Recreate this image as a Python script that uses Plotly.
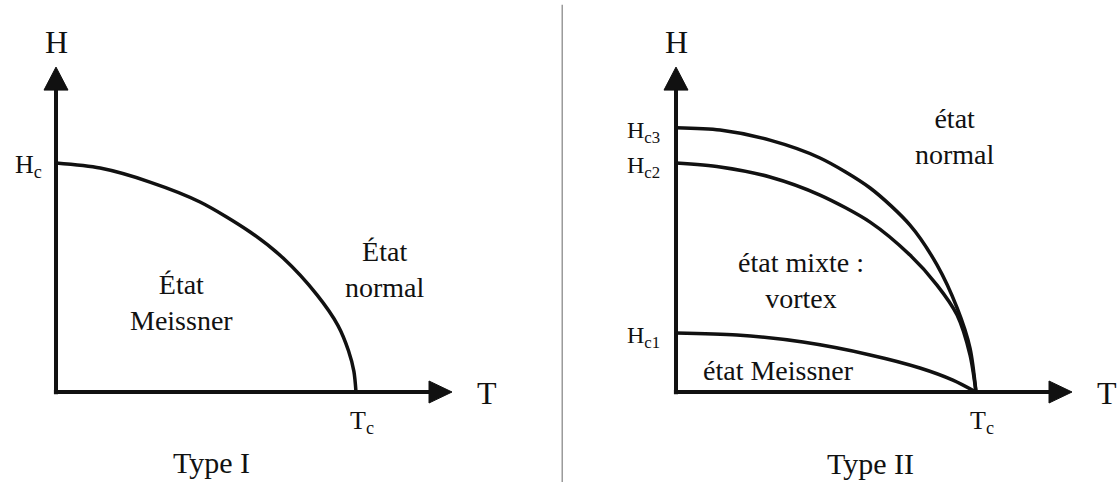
import plotly.graph_objects as go

# Phase diagrams of type I and type II superconductors (T in units of Tc, H in units of Hc / Hc2)
T_TYPE1 = [0, 0.147, 0.313, 0.48, 0.647, 0.757, 0.87, 0.94, 0.975, 0.993, 1.0]
HC_TYPE1 = [1.0, 0.978, 0.917, 0.83, 0.699, 0.585, 0.424, 0.29, 0.18, 0.09, 0.0]

T_UPPER = [0, 0.147, 0.313, 0.48, 0.647, 0.78, 0.87, 0.937, 0.98, 1.0]
HC3 = [1.154, 1.144, 1.100, 1.022, 0.891, 0.729, 0.555, 0.367, 0.192, 0.0]
HC2 = [1.0, 0.983, 0.939, 0.860, 0.742, 0.598, 0.467, 0.336, 0.162, 0.0]

T_LOWER = [0, 0.203, 0.423, 0.647, 0.813, 0.923, 1.0]
HC1 = [0.258, 0.249, 0.218, 0.162, 0.105, 0.052, 0.0]

T_ARROW_TIP = 1.32
H_ARROW_TIP = 1.419

FONT = "Liberation Serif, Times New Roman, serif"
BLACK = "#111111"

fig = go.Figure()


def axes_traces(xa, ya):
    # axis lines stop at the arrowhead base
    fig.add_trace(go.Scatter(x=[0, 0], y=[-0.01, H_ARROW_TIP - 0.08], mode="lines",
                             line=dict(color=BLACK, width=4), xaxis=xa, yaxis=ya,
                             showlegend=False, hoverinfo="skip"))
    fig.add_trace(go.Scatter(x=[-0.007, T_ARROW_TIP - 0.06], y=[0, 0], mode="lines",
                             line=dict(color=BLACK, width=4), xaxis=xa, yaxis=ya,
                             showlegend=False, hoverinfo="skip"))
    fig.add_shape(type="path", xref=xa, yref=ya, xsizemode="pixel", ysizemode="pixel",
                  xanchor=0, yanchor=H_ARROW_TIP, path="M -12,-23 L 0,0 L 12,-23 Z",
                  fillcolor=BLACK, line=dict(color=BLACK, width=1))
    fig.add_shape(type="path", xref=xa, yref=ya, xsizemode="pixel", ysizemode="pixel",
                  xanchor=T_ARROW_TIP, yanchor=0, path="M -23,-11 L 0,0 L -23,11 Z",
                  fillcolor=BLACK, line=dict(color=BLACK, width=1))


def curve(t, h, xa, ya):
    fig.add_trace(go.Scatter(x=t, y=h, mode="lines",
                             line=dict(color=BLACK, width=3.5, shape="spline", smoothing=0.8),
                             xaxis=xa, yaxis=ya, showlegend=False, hoverinfo="skip"))


axes_traces("x", "y")
axes_traces("x2", "y2")
curve(T_TYPE1, HC_TYPE1, "x", "y")
curve(T_UPPER, HC3, "x2", "y2")
curve(T_UPPER, HC2, "x2", "y2")
curve(T_LOWER, HC1, "x2", "y2")

ann = []


def label(text, x, y, panel, size=28, xanchor="center", xshift=0, yshift=0):
    ann.append(dict(text=text, x=x, y=y, xref="x" if panel == 1 else "x2",
                    yref="y" if panel == 1 else "y2", showarrow=False,
                    xanchor=xanchor, yanchor="middle", xshift=xshift, yshift=yshift,
                    font=dict(family=FONT, size=size, color=BLACK)))


for p in (1, 2):
    label("H", 0, 1.528, p, size=32)
    label("T", 1.437, -0.005, p, size=32)
    label("T<sub>c</sub>", 1.0, -0.13, p, size=26, xshift=6)

label("H<sub>c</sub>", 0, HC_TYPE1[0], 1, size=26, xanchor="right", xshift=-12, yshift=-3)
label("H<sub>c3</sub>", 0, HC3[0], 2, size=24, xanchor="right", xshift=-14, yshift=-4)
label("H<sub>c2</sub>", 0, HC2[0], 2, size=24, xanchor="right", xshift=-14, yshift=-4)
label("H<sub>c1</sub>", 0, HC1[0], 2, size=24, xanchor="right", xshift=-14, yshift=-4)

label("État<br>Meissner", 0.417, 0.389, 1)
label("État<br>normal", 1.097, 0.533, 1)
label("état<br>normal", 0.93, 1.118, 2)
label("état mixte :<br>vortex", 0.417, 0.489, 2)
label("état Meissner", 0.34, 0.092, 2)
label("Type I", 0.517, -0.306, 1, size=30)
label("Type II", 0.647, -0.314, 2, size=30)

# panel separator
fig.add_shape(type="line", xref="paper", yref="paper", x0=0.502, x1=0.502, y0=0, y1=0.99,
              line=dict(color="#9a9a9a", width=1.5))

hidden = dict(visible=False, fixedrange=True)
fig.update_layout(
    width=1120, height=482,
    margin=dict(l=0, r=0, t=0, b=0),
    paper_bgcolor="white", plot_bgcolor="white",
    xaxis=dict(domain=[0, 0.5], range=[-0.1867, 1.68], **hidden),
    yaxis=dict(domain=[0, 1], range=[-0.393, 1.712], **hidden),
    xaxis2=dict(domain=[0.5, 1], range=[-0.3867, 1.48], **hidden),
    yaxis2=dict(domain=[0, 1], range=[-0.393, 1.712], anchor="x2", **hidden),
    annotations=ann,
)

# drop the default 8px page margin so the figure sits at the window origin
fig.write_html("out.html", config={"displayModeBar": False},
               post_script="document.body.style.margin = '0';")
